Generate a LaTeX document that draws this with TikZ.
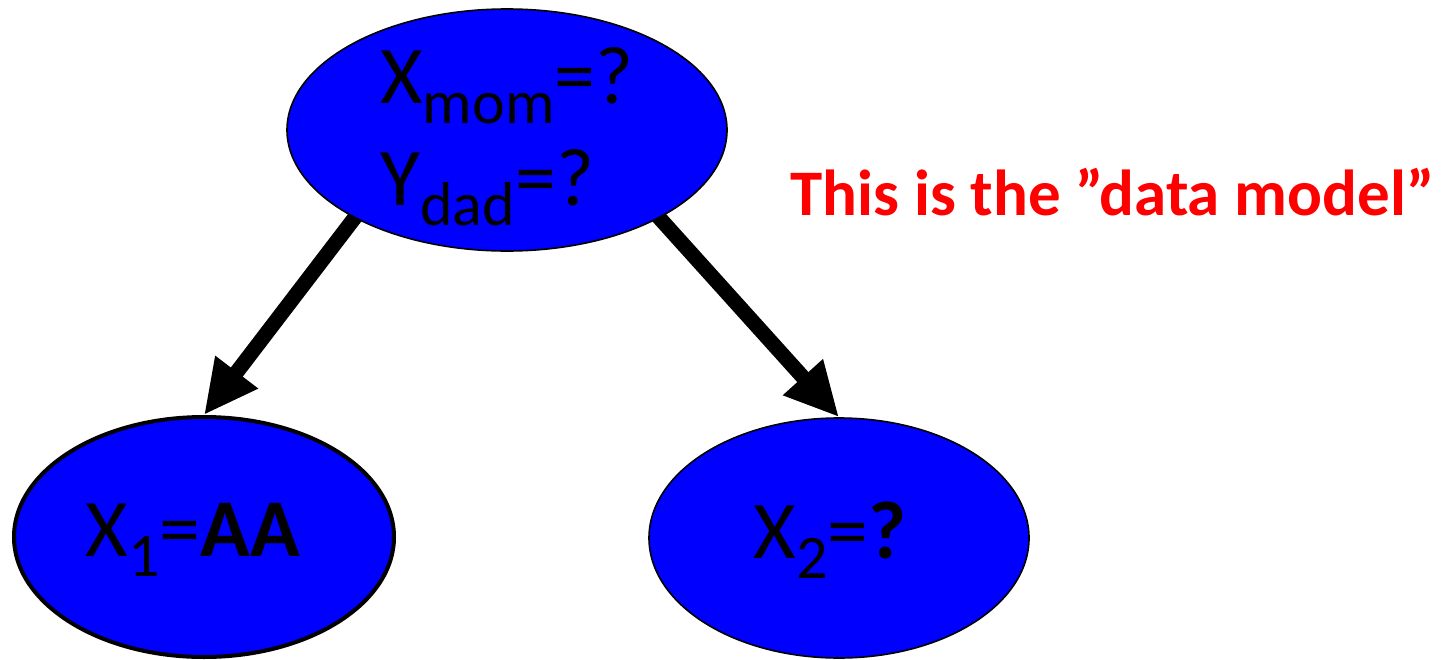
\documentclass[tikz,border=0pt]{standalone}
\usepackage{fontspec}
\setmainfont{Carlito}
\usetikzlibrary{shapes.geometric,arrows.meta,backgrounds}
\definecolor{pedFill}{HTML}{0000FF}
\definecolor{pedNote}{HTML}{FF0000}
\newcommand{\pedsub}[1]{\raisebox{-10pt}{\fontsize{31}{31}\selectfont #1}}
\tikzset{
  ped/.style={ellipse,draw=black,line width=0.8pt,fill=pedFill,inner sep=0pt},
  pedkid/.style={ped,minimum width=190pt,minimum height=120pt},
  pedthick/.style={pedkid,line width=2pt},
  pedtxt/.style={text=black,inner sep=0pt,font=\fontsize{41}{51}\selectfont},
  pedflow/.style={-{Triangle[length=27pt,width=25pt]},line width=7.5pt,shorten <=-8pt},
  pednote/.style={font=\fontsize{32.5}{36}\selectfont\bfseries,text=pedNote,inner sep=0pt},
}
\begin{document}
\begin{tikzpicture}[x=0.5pt,y=-0.5pt]
  \useasboundingbox (0,0) rectangle (1441,659);
  \node[ped,minimum width=220pt,minimum height=121pt] (mom) at (507,130) {};
  \node[pedtxt,align=left] (momtxt) at (507,137) {X\pedsub{mom}=?\\Y\pedsub{dad}=?};
  \node[pedthick] (kid1) at (204,537) {};
  \node[pedtxt] (kid1txt) at (193,540) {X\pedsub{1}=\textbf{AA}};
  \node[pedkid] (kid2) at (839,538) {};
  \node[pedtxt] (kid2txt) at (830,540) {X\pedsub{2}=\textbf{?}};
  \node[pednote,anchor=base west] (note) at (790,215) {This is the ”data model”};
  \begin{scope}[on background layer]
  \draw[pedflow] (mom.210) -- (kid1.north);
  \draw[pedflow] (mom.330) -- (kid2.north);
  \end{scope}
\end{tikzpicture}
\end{document}
